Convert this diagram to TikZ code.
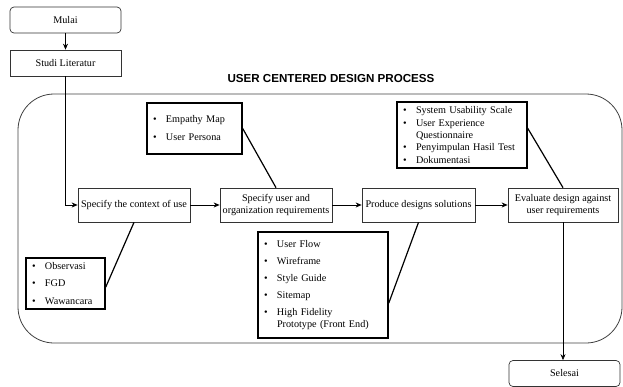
\documentclass[tikz,border=0pt]{standalone}
\usepackage{fontspec}
\setmainfont{Liberation Serif}
\newfontfamily\titlefont{Liberation Sans}
\usetikzlibrary{arrows.meta,calc}

% one bulleted line, and a continuation line indented to the text
\newcommand{\bitem}[1]{\makebox[13pt][l]{\textbullet}#1}
\newcommand{\bcont}[1]{\hspace*{13pt}#1}

\begin{document}
\begin{tikzpicture}[x=1pt,y=-1pt,
  font=\fontsize{10.2}{12}\selectfont,
  stepbox/.style={draw=black!80,line width=0.7pt,minimum height=34pt,inner sep=1pt,align=center},
  termbox/.style={draw=black!80,line width=0.7pt,rounded corners=4pt,minimum height=26pt,minimum width=111pt},
  plainbox/.style={draw=black!80,line width=0.7pt,minimum height=26pt,minimum width=111pt},
  listbox/.style={draw=black,line width=1.4pt,inner xsep=6pt,align=left,anchor=center},
  flow/.style={line width=0.7pt,-{Stealth[length=6pt,width=5pt]}},
  tie/.style={line width=1.2pt}]

\useasboundingbox (0,0) rectangle (623,386);

% process frame and its title
\draw[black!75,line width=0.8pt,rounded corners=36pt] (18,94) rectangle (622,343);
\node (title) at (331,79) {\titlefont\bfseries\fontsize{11.6}{13}\selectfont USER CENTERED DESIGN PROCESS};

% start and end
\node[termbox] (mulai) at (65.5,20) {Mulai};
\node[plainbox] (studi) at (65.5,63) {Studi Literatur};
\node[termbox] (selesai) at (564.5,373.5) {Selesai};

% main steps
\node[stepbox,minimum width=112pt] (context) at (134,205) {Specify the context of use};
\node[stepbox,minimum width=112pt] (user) at (276,205) {Specify user and\\organization requirements};
\node[stepbox,minimum width=113pt] (produce) at (418.5,205) {Produce designs solutions};
\node[stepbox,minimum width=110pt] (eval) at (563,205) {Evaluate design against\\user requirements};

% activity lists
\node[listbox,minimum width=95pt,minimum height=51pt,text width=83pt] (empathy) at (194.5,128.5)
  {\bitem{Empathy Map}\\[6pt]\bitem{User Persona}};
\node[listbox,minimum width=130pt,minimum height=66pt,text width=118pt] (sus) at (462,135)
  {\bitem{System Usability Scale}\\[0.5pt]\bitem{User Experience}\\\bcont{Questionnaire}\\[0.5pt]\bitem{Penyimpulan Hasil Test}\\[0.5pt]\bitem{Dokumentasi}};
\node[listbox,minimum width=79pt,minimum height=51pt,text width=67pt] (observ) at (65.5,283.5)
  {\bitem{Observasi}\\[5.5pt]\bitem{FGD}\\[5.5pt]\bitem{Wawancara}};
\node[listbox,minimum width=130pt,minimum height=106pt,text width=118pt] (uflow) at (323,285)
  {\bitem{User Flow}\\[5pt]\bitem{Wireframe}\\[5pt]\bitem{Style Guide}\\[5pt]\bitem{Sitemap}\\[5pt]\bitem{High Fidelity}\\\bcont{Prototype (Front End)}};

% flow of the process
\draw[flow] (mulai) -- (studi);
\draw[flow] (studi.south) |- (context.west);
\draw[flow] (context) -- (user);
\draw[flow] (user) -- (produce);
\draw[flow] (produce) -- (eval);
\draw[flow] (eval.south) -- (eval.south |- selesai.north);

% lists tied to their steps
\draw[tie] (empathy.east) -- (user.north);
\draw[tie] ($(sus.north east)!0.4!(sus.south east)$) -- (eval.north);
\draw[tie] ($(observ.north east)!0.57!(observ.south east)$) -- (context.south);
\draw[tie] ($(uflow.north east)!0.67!(uflow.south east)$) -- (produce.south);
\end{tikzpicture}
\end{document}
